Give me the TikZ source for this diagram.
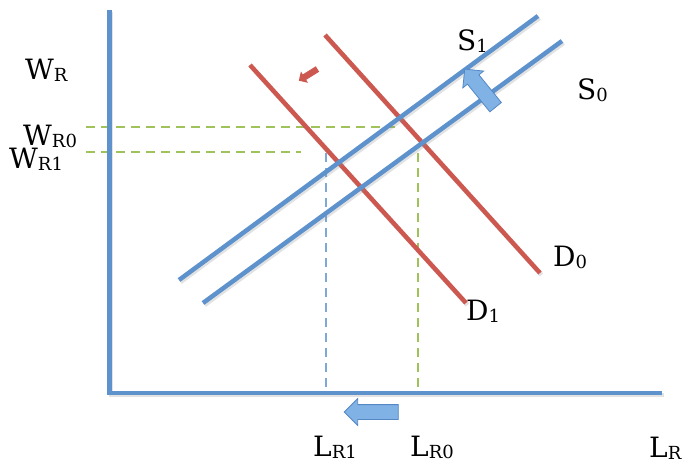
\documentclass[tikz,border=0pt]{standalone}
\usepackage{fontspec}
\setmainfont{DejaVu Serif}
\usepackage{tikz}
\usetikzlibrary{shapes.arrows,positioning}

\definecolor{lineblue}{RGB}{94,146,204}
\definecolor{linered}{RGB}{204,88,80}
\definecolor{dashgreen}{RGB}{160,194,90}
\definecolor{arrowfill}{RGB}{128,178,230}
\definecolor{arrowedge}{RGB}{84,136,196}

\newcommand{\lowsub}[1]{\raisebox{-2pt}{\fontsize{18}{20}\selectfont #1}}

\begin{document}
\begin{tikzpicture}[x=1pt, y=-1pt,
    curve/.style={line width=4.5pt, preaction={draw=black!45, opacity=0.25, line width=4.5pt, transform canvas={shift={(1.5pt,-2pt)}}}},
    supply/.style={curve, draw=lineblue},
    demand/.style={curve, draw=linered},
    guide/.style={line width=1.3pt, dash pattern=on 9pt off 6pt},
    lbl/.style={inner sep=0pt, anchor=base west, font=\fontsize{28}{32}\selectfont},
    shift arrow/.style={single arrow, draw=arrowedge, fill=arrowfill, line width=0.8pt, inner sep=7pt, single arrow head extend=6pt, single arrow tip angle=90},
    small arrow/.style={single arrow, fill=linered, inner sep=3pt, single arrow head extend=3.5pt, single arrow tip angle=90}]

    \useasboundingbox (0,0) rectangle (682,470);

    % axes
    \coordinate (origin) at (109.5,393);
    \coordinate (ytop) at (109.5,10);
    \coordinate (xend) at (662,393);

    % curve end points
    \coordinate (s1a) at (179,280);
    \coordinate (s1b) at (538,16);
    \coordinate (s0a) at (203,303);
    \coordinate (s0b) at (562,41);
    \coordinate (d0a) at (325,35);
    \coordinate (d0b) at (540,273);
    \coordinate (d1a) at (250,65);
    \coordinate (d1b) at (466,303);

    % guide line end points
    \coordinate (w0a) at (86,127);
    \coordinate (w0b) at (398,127);
    \coordinate (w1a) at (86,152);
    \coordinate (w1b) at (301,152);
    \coordinate (l1a) at (326,153);
    \coordinate (l1b) at (326,391);
    \coordinate (l0a) at (418,153);
    \coordinate (l0b) at (418,391);

    % guides
    \draw[guide, dashgreen] (w0a) -- (w0b);
    \draw[guide, dashgreen] (w1a) -- (w1b);
    \draw[guide, lineblue!80] (l1a) -- (l1b);
    \draw[guide, dashgreen] (l0a) -- (l0b);

    % curves
    \draw[demand] (d0a) -- (d0b);
    \draw[demand] (d1a) -- (d1b);
    \draw[supply] (s1a) -- (s1b);
    \draw[supply] (s0a) -- (s0b);
    \draw[supply] (ytop) -- (origin) -- (xend);

    % shift arrows
    \node[shift arrow, minimum height=49pt, rotate=129] (supshift) at (482.5,91) {};
    \node[shift arrow, minimum height=54pt, rotate=180] (labshift) at (375,412) {};
    \node[small arrow, minimum height=22pt, rotate=212] (demshift) at (309.5,74) {};

    % labels
    \node[lbl] (wr) at (25,80) {W\lowsub{R}};
    \node[lbl] (wr0) at (23,146) {W\lowsub{R0}};
    \node[lbl] (wr1) at (9,169) {W\lowsub{R1}};
    \node[lbl] (lr1) at (313,456) {L\lowsub{R1}};
    \node[lbl] (lr0) at (410,456) {L\lowsub{R0}};
    \node[lbl] (lr) at (649,457) {L\lowsub{R}};
    \node[lbl] (s1) at (457,51) {S\lowsub{1}};
    \node[lbl] (s0) at (577,100) {S\lowsub{0}};
    \node[lbl] (d0) at (553,266) {D\lowsub{0}};
    \node[lbl] (d1) at (466,320) {D\lowsub{1}};

\end{tikzpicture}
\end{document}
